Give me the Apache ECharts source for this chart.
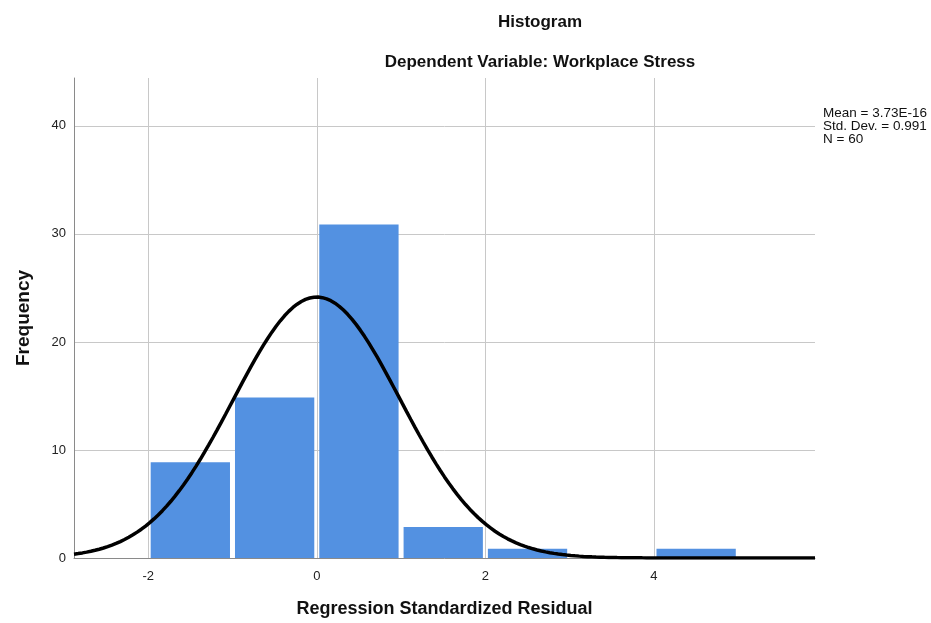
<!DOCTYPE html>
<html><head><meta charset="utf-8">
<script src="https://cdn.jsdelivr.net/npm/echarts@6/dist/echarts.min.js"></script>
<style>html,body{margin:0;padding:0;background:#fff}#c{width:931px;height:623px}</style>
</head><body><div id="c"></div>
<script>
// Histogram bins (lower edge, upper edge) and counts
const binStarts = [-2, -1, 0, 1, 2, 3, 4];
const binEnds   = [-1, 0, 1, 2, 3, 4, 5];
const counts    = [9, 15, 31, 3, 1, 0, 1];
const xTicks = [-2, 0, 2, 4];
const yTicks = [0, 10, 20, 30, 40];
const statMean = 3.73e-16;
const statSD = 0.991;
const statN = 60;
const statLines = ['Mean = 3.73E-16', 'Std. Dev. = 0.991', 'N = 60'];

const FONT = '"Liberation Sans", Arial, sans-serif';
const xMin = -2.88, xMax = 5.91, yMax = 44.43;

const barData = binStarts.map((s, i) => [s, binEnds[i], counts[i]]).filter(d => d[2] > 0);

// fitted normal curve from the displayed statistics
const binW = 1;
const curve = [];
for (let i = 0; i <= 176; i++) {
  const x = xMin + (xMax - xMin) * i / 176;
  const z = (x - statMean) / statSD;
  curve.push([x, statN * binW * Math.exp(-0.5 * z * z) / (statSD * Math.sqrt(2 * Math.PI))]);
}

const chart = echarts.init(document.getElementById('c'), null, {renderer: 'canvas'});
chart.setOption({
  animation: false,
  backgroundColor: '#fff',
  textStyle: {fontFamily: FONT},
  grid: {left: 74, right: 116, top: 78, bottom: 64, containLabel: false},
  xAxis: {
    type: 'value', min: xMin, max: xMax,
    name: 'Regression Standardized Residual', nameLocation: 'middle', nameGap: 42,
    nameTextStyle: {fontFamily: FONT, fontWeight: 'bold', fontSize: 18, color: '#111'},
    axisLine: {show: true, onZero: false, lineStyle: {color: '#8a8a8a', width: 1}},
    axisTick: {show: false, customValues: xTicks},
    axisLabel: {customValues: xTicks, color: '#222', fontSize: 13, fontFamily: FONT, margin: 12},
    splitLine: {show: true, lineStyle: {color: '#c8c8c8', width: 1}}
  },
  yAxis: {
    type: 'value', min: 0, max: yMax,
    name: 'Frequency', nameLocation: 'middle', nameGap: 41, nameRotate: 90,
    nameTextStyle: {fontFamily: FONT, fontWeight: 'bold', fontSize: 19, color: '#111'},
    axisLine: {show: true, onZero: false, lineStyle: {color: '#8a8a8a', width: 1}},
    axisTick: {show: false, customValues: yTicks},
    axisLabel: {customValues: yTicks, color: '#222', fontSize: 13, fontFamily: FONT, margin: 8},
    splitLine: {show: true, lineStyle: {color: '#c8c8c8', width: 1}}
  },
  graphic: [
    {type: 'text', x: 540, y: 14, style: {text: 'Histogram', font: 'bold 17px ' + FONT, fill: '#111', textAlign: 'center'}},
    {type: 'text', x: 540, y: 54, style: {text: 'Dependent Variable: Workplace Stress', font: 'bold 17px ' + FONT, fill: '#111', textAlign: 'center'}},
    {type: 'text', x: 823, y: 107, style: {text: statLines.join('\n'), font: '13.5px ' + FONT, fill: '#111', lineHeight: 13}}
  ],
  series: [
    {
      type: 'custom', data: barData, z: 2,
      renderItem: function (params, api) {
        const p0 = api.coord([api.value(0), api.value(2)]);
        const p1 = api.coord([api.value(1), 0]);
        const x0 = p0[0] + 2.5, x1 = p1[0] - 2.5;
        return {type: 'rect', shape: {x: x0, y: p0[1] + 1.5, width: x1 - x0, height: p1[1] - p0[1] - 1.5},
          style: {fill: '#5391e1'}};
      }
    },
    {
      type: 'line', data: curve, showSymbol: false, smooth: false, z: 5,
      lineStyle: {color: '#000', width: 3.5}, silent: true
    }
  ]
});
</script></body></html>
